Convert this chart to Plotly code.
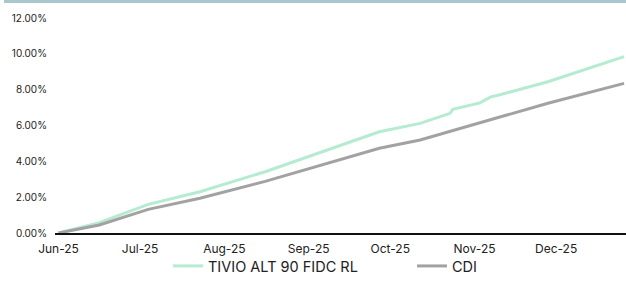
import plotly.graph_objects as go

dates = ["2025-06-01", "2025-06-16", "2025-07-04", "2025-07-23", "2025-08-16",
         "2025-09-08", "2025-09-27", "2025-10-12", "2025-10-23", "2025-10-24",
         "2025-11-03", "2025-11-07", "2025-11-10", "2025-11-28", "2025-12-26"]
tivio = [0.00, 0.58, 1.60, 2.30, 3.42, 4.63, 5.65, 6.12, 6.68, 6.90,
         7.26, 7.60, 7.70, 8.44, 9.84]
cdi = [0.00, 0.45, 1.32, 1.94, 2.88, 3.89, 4.73, 5.19, 5.68, 5.72,
       6.15, 6.33, 6.46, 7.24, 8.35]

tivio_frac = [v / 100 for v in tivio]
cdi_frac = [v / 100 for v in cdi]

FONT = "Inter"
W, H = 626, 282
LEG_FONT = dict(size=14.5, color="#222222")

fig = go.Figure()
fig.add_trace(go.Scatter(x=dates, y=tivio_frac, mode="lines", name="TIVIO ALT 90 FIDC RL",
                         line=dict(color="#b5ebd0", width=3), legend="legend"))
fig.add_trace(go.Scatter(x=dates, y=cdi_frac, mode="lines", name="CDI",
                         line=dict(color="#a2a2a2", width=3), legend="legend2"))

fig.update_layout(
    width=W, height=H,
    margin=dict(l=0, r=0, t=0, b=0),
    paper_bgcolor="white", plot_bgcolor="white",
    font=dict(family=FONT, color="#222222"),
    showlegend=True,
    legend=dict(orientation="h", x=168 / W, xanchor="left", y=0, yanchor="bottom",
                font=LEG_FONT, itemwidth=30, bgcolor="rgba(0,0,0,0)"),
    legend2=dict(orientation="h", x=412 / W, xanchor="left", y=0, yanchor="bottom",
                 font=LEG_FONT, itemwidth=30, bgcolor="rgba(0,0,0,0)"),
    shapes=[dict(type="rect", xref="paper", yref="paper", x0=4 / W, x1=1.0,
                 y0=1 - 3 / H, y1=1.0, fillcolor="#a9c7cc", line=dict(width=0))],
)
fig.update_xaxes(type="date", domain=[55 / W, 1.0], automargin=False,
                 range=["2025-05-30 17:00", "2025-12-26 17:00"],
                 tick0="2025-06-01", dtick="M1", tickformat="%b-%y",
                 showgrid=False, showline=True, linecolor="#111111", linewidth=1.5,
                 ticks="", tickfont=dict(size=12, color="#222222"), ticklabelstandoff=4)
fig.update_yaxes(domain=[1 - 233 / H, 1 - 18 / H], automargin=False,
                 range=[0, 0.12], dtick=0.02, tickformat=".2%", showgrid=False,
                 zeroline=False, showline=False, ticks="",
                 tickfont=dict(size=10, color="#222222"), ticklabelstandoff=7)

fig.write_html("out.html", post_script="document.body.style.margin='0';",
               config={"displayModeBar": False})
